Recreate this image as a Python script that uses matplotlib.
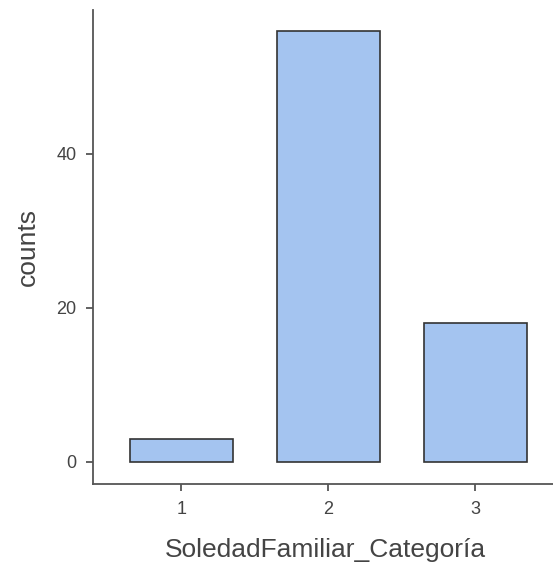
import numpy as np
import matplotlib
matplotlib.use("Agg")
import matplotlib.pyplot as plt

# data
categories = ["1", "2", "3"]
counts = [3, 56, 18]
y_ticks = [0, 20, 40]

plt.rcParams['font.family'] = ['Liberation Sans', 'DejaVu Sans']

fig = plt.figure(figsize=(5.53, 5.69), dpi=100)
ax = fig.add_axes([0.1682, 0.1494, 0.8318, 0.833])

x = np.arange(1, len(categories) + 1)
ax.bar(x, counts, width=0.7, color='#a4c4f0', edgecolor='#333333', linewidth=1.2)

ax.set_xlim(0.4, 3.53)
ax.set_ylim(-2.86, 58.7)
ax.set_xticks(x)
ax.set_xticklabels(categories)
ax.set_yticks(y_ticks)

for side in ['top', 'right']:
    ax.spines[side].set_visible(False)
for side in ['left', 'bottom']:
    ax.spines[side].set_color('#555555')
    ax.spines[side].set_linewidth(1.3)

ax.tick_params(axis='both', colors='#555555', width=1.3, length=5,
               labelsize=13, labelcolor='#444444', pad=7)

ax.set_xlabel('SoledadFamiliar_Categoría', fontsize=19, color='#444444')
ax.set_ylabel('counts', fontsize=19, color='#444444', labelpad=12)
ax.xaxis.set_label_coords(0.505, -0.115)

fig.savefig('out.png', dpi=100)
